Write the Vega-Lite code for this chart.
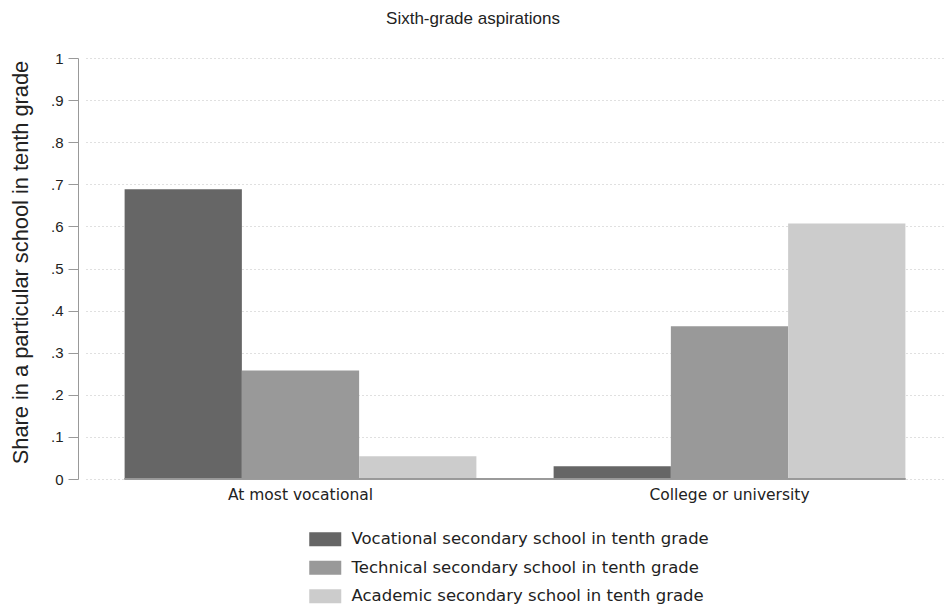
{
  "$schema": "https://vega.github.io/schema/vega-lite/v6.json",
  "autosize": {"type": "none"},
  "width": 858,
  "height": 421,
  "padding": {"left": 86, "top": 58, "right": 2, "bottom": 125},
  "background": "white",
  "config": {
    "font": "Liberation Sans",
    "view": {"stroke": null},
    "axis": {"labelFont": "Liberation Sans", "titleFont": "Liberation Sans", "labelColor": "#222", "titleColor": "#222", "titleFontWeight": "normal"},
    "legend": {"labelFont": "DejaVu Sans"}
  },
  "title": {"text": "Sixth-grade aspirations", "fontSize": 17, "font": "Liberation Sans", "fontWeight": "normal", "color": "#222", "anchor": "middle", "frame": "group", "dx": -42, "offset": 23},
  "data": {
    "values": [
      {"aspiration": "At most vocational", "school": "Vocational secondary school in tenth grade", "share": 0.688},
      {"aspiration": "At most vocational", "school": "Technical secondary school in tenth grade", "share": 0.258},
      {"aspiration": "At most vocational", "school": "Academic secondary school in tenth grade", "share": 0.054},
      {"aspiration": "College or university", "school": "Vocational secondary school in tenth grade", "share": 0.030},
      {"aspiration": "College or university", "school": "Technical secondary school in tenth grade", "share": 0.363},
      {"aspiration": "College or university", "school": "Academic secondary school in tenth grade", "share": 0.607}
    ]
  },
  "encoding": {
    "x": {"field": "aspiration", "type": "nominal", "sort": ["At most vocational", "College or university"],
      "scale": {"paddingInner": 0.18, "paddingOuter": 0.09},
      "axis": {"title": null, "domain": false, "ticks": false, "labelAngle": 0, "labelFont": "DejaVu Sans", "labelFontSize": 15.5, "labelPadding": 8, "grid": false}}
  },
  "layer": [
    {
      "mark": {"type": "bar"},
      "encoding": {
        "xOffset": {"field": "school", "type": "nominal", "sort": ["Vocational secondary school in tenth grade", "Technical secondary school in tenth grade", "Academic secondary school in tenth grade"], "scale": {"paddingInner": 0, "paddingOuter": 0}},
        "y": {"field": "share", "type": "quantitative", "scale": {"domain": [0, 1], "nice": false},
          "axis": {"title": "Share in a particular school in tenth grade", "titleFontSize": 21.8, "titlePadding": 18, "titleY": 204,
            "values": [0, 0.1, 0.2, 0.3, 0.4, 0.5, 0.6, 0.7, 0.8, 0.9, 1],
            "labelExpr": "datum.value == 0 ? '0' : datum.value == 1 ? '1' : replace(format(datum.value, '.1f'), '0.', '.')",
            "labelFontSize": 15, "labelPadding": 5, "offset": 8, "tickSize": 10, "tickColor": "#999", "domainColor": "#999",
            "grid": true, "gridDash": [1, 3], "gridColor": "#c0c0c0"}},
        "color": {"field": "school", "type": "nominal",
          "scale": {"domain": ["Vocational secondary school in tenth grade", "Technical secondary school in tenth grade", "Academic secondary school in tenth grade"], "range": ["#666666", "#999999", "#cccccc"]},
          "legend": {"title": null, "orient": "none", "legendX": 231, "legendY": 473, "direction": "vertical", "padding": 0,
            "symbolType": "M-2.286,-1 L2.286,-1 L2.286,1 L-2.286,1 Z", "symbolSize": 196, "symbolStrokeWidth": 0, "symbolOpacity": 1,
            "labelFontSize": 16.5, "labelColor": "#222", "labelOffset": 18, "labelLimit": 600, "rowPadding": 11.5}}
      }
    },
    {
      "mark": {"type": "rule", "color": "#999", "strokeWidth": 1},
      "encoding": {
        "y": {"datum": 0, "type": "quantitative"},
        "x": {"datum": "At most vocational", "bandPosition": 0},
        "x2": {"datum": "College or university", "bandPosition": 1}
      }
    }
  ]
}
